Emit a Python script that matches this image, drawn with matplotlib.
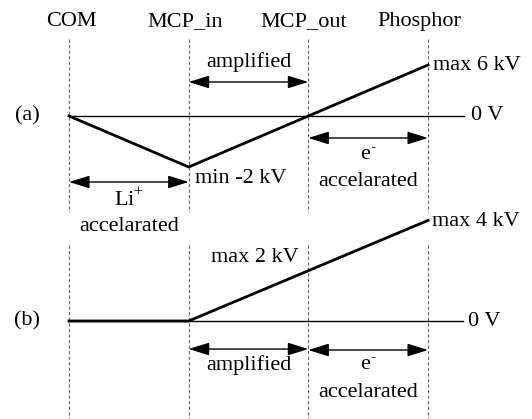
import numpy as np
import matplotlib
matplotlib.use("Agg")
import matplotlib.pyplot as plt

plt.rcParams['font.family'] = 'Liberation Serif'
plt.rcParams['mathtext.fontset'] = 'custom'
plt.rcParams['mathtext.rm'] = 'Liberation Serif'

# stations along the detector and drawn potential levels (schematic units)
stations = ['COM', 'MCP_in', 'MCP_out', 'Phosphor']
pos = [0, 1, 2, 3]
level_a = [0, -1, 0, 1]
level_b = [0, 0, 1, 2]
label_a_min = 'min -2 kV'
label_a_max = 'max 6 kV'
label_b_mid = 'max 2 kV'
label_b_max = 'max 4 kV'

fs = 16
fig = plt.figure(figsize=(5.32, 4.19), dpi=100)
ax_a = fig.add_axes([0, 206 / 419, 1, 213 / 419])
ax_b = fig.add_axes([0, 0, 1, 206 / 419])

xlim = (-69 / 119.67, (532 - 69) / 119.67)
ax_a.set_xlim(xlim)
ax_a.set_ylim(-97 / 51, 116 / 51)
ax_b.set_xlim(xlim)
ax_b.set_ylim(-98 / 50.3, 108 / 50.3)
for ax in (ax_a, ax_b):
    ax.axis('off')

electron = 'e$^{\\text{-}}$'


def arrow(ax, x0, x1, y):
    ax.annotate('', xy=(x1, y), xytext=(x0, y),
                arrowprops=dict(arrowstyle='<|-|>,head_length=0.9,head_width=0.28',
                                color='k', lw=1, mutation_scale=14,
                                shrinkA=0, shrinkB=0))


# panel (a)
for x in pos:
    ax_a.plot([x, x], [1.51, -1.88], color='#666666', lw=0.8, dashes=(3, 2))
ax_a.plot([0, 3.30], [0, 0], color='k', lw=1)
ax_a.plot(pos, level_a, color='k', lw=2)
for x, name, dx in zip(pos, stations, [0.02, -0.03, -0.04, -0.07]):
    ax_a.text(x + dx, 1.86, name, ha='center', va='center', fontsize=fs)
ax_a.text(-0.35, 0, '(a)', ha='center', va='center', fontsize=fs)
ax_a.text(3.36, 0, '0 V', ha='left', va='center', fontsize=fs)
ax_a.text(pos[1] + 0.05, level_a[1] - 0.22, label_a_min, ha='left', va='center', fontsize=fs)
ax_a.text(pos[3] + 0.04, level_a[3], label_a_max, ha='left', va='center', fontsize=fs)
arrow(ax_a, pos[1], pos[2], 0.667)
ax_a.text(1.5, 1.06, 'amplified', ha='center', va='center', fontsize=fs)
arrow(ax_a, pos[0], pos[1], -1.294)
ax_a.text(0.5, -1.63, 'Li$^{\\mathrm{+}}$', ha='center', va='center', fontsize=fs)
ax_a.text(0.5, -2.157, 'accelarated', ha='center', va='center', fontsize=fs)
arrow(ax_a, pos[2], pos[3], -0.431)
ax_a.text(2.5, -0.765, electron, ha='center', va='center', fontsize=fs)
ax_a.text(2.5, -1.294, 'accelarated', ha='center', va='center', fontsize=fs)

# panel (b)
for x in pos:
    ax_b.plot([x, x], [1.51, -1.95], color='#666666', lw=0.8, dashes=(3, 2))
ax_b.plot([0, 3.29], [0, 0], color='k', lw=1)
ax_b.plot(pos, level_b, color='k', lw=2)
ax_b.text(-0.35, 0, '(b)', ha='center', va='center', fontsize=fs)
ax_b.text(3.33, 0, '0 V', ha='left', va='center', fontsize=fs)
ax_b.text(1.19, 1.27, label_b_mid, ha='left', va='center', fontsize=fs)
ax_b.text(pos[3] + 0.03, 1.97, label_b_max, ha='left', va='center', fontsize=fs)
arrow(ax_b, pos[1], pos[2], -0.557)
ax_b.text(1.5, -0.875, 'amplified', ha='center', va='center', fontsize=fs)
arrow(ax_b, pos[2], pos[3], -0.577)
ax_b.text(2.5, -0.875, electron, ha='center', va='center', fontsize=fs)
ax_b.text(2.5, -1.43, 'accelarated', ha='center', va='center', fontsize=fs)

fig.savefig('out.png', dpi=100)
